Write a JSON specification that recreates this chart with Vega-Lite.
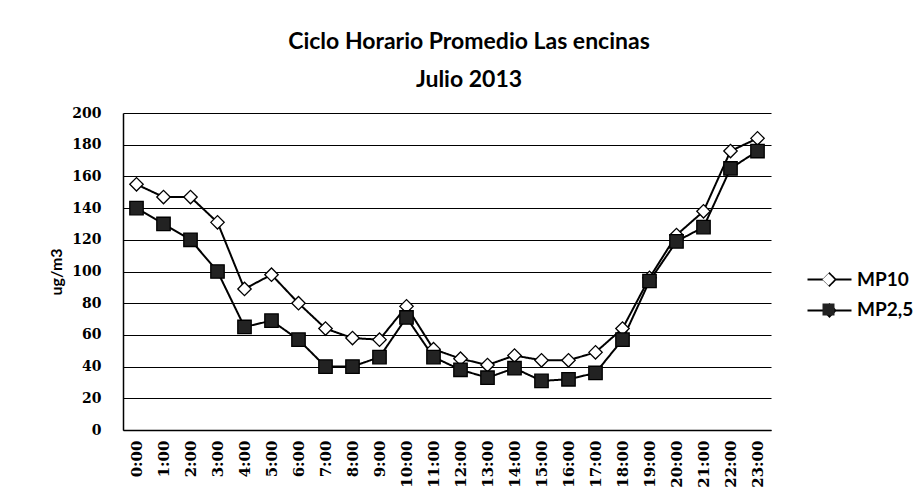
{
  "$schema": "https://vega.github.io/schema/vega-lite/v6.json",
  "width": 648,
  "height": 317,
  "autosize": {"type": "none"},
  "padding": {"left": 123, "top": 113, "right": 146, "bottom": 64},
  "background": "white",
  "title": {
    "text": ["Ciclo Horario Promedio Las encinas", "Julio 2013"],
    "font": "Lato",
    "fontSize": 23,
    "fontWeight": "bold",
    "color": "black",
    "anchor": "middle",
    "dx": 22,
    "offset": 14,
    "lineHeight": 38
  },
  "data": {
    "values": [
      {"hora": "0:00", "serie": "MP10", "valor": 155}, {"hora": "0:00", "serie": "MP2,5", "valor": 140},
      {"hora": "1:00", "serie": "MP10", "valor": 147}, {"hora": "1:00", "serie": "MP2,5", "valor": 130},
      {"hora": "2:00", "serie": "MP10", "valor": 147}, {"hora": "2:00", "serie": "MP2,5", "valor": 120},
      {"hora": "3:00", "serie": "MP10", "valor": 131}, {"hora": "3:00", "serie": "MP2,5", "valor": 100},
      {"hora": "4:00", "serie": "MP10", "valor": 89}, {"hora": "4:00", "serie": "MP2,5", "valor": 65},
      {"hora": "5:00", "serie": "MP10", "valor": 98}, {"hora": "5:00", "serie": "MP2,5", "valor": 69},
      {"hora": "6:00", "serie": "MP10", "valor": 80}, {"hora": "6:00", "serie": "MP2,5", "valor": 57},
      {"hora": "7:00", "serie": "MP10", "valor": 64}, {"hora": "7:00", "serie": "MP2,5", "valor": 40},
      {"hora": "8:00", "serie": "MP10", "valor": 58}, {"hora": "8:00", "serie": "MP2,5", "valor": 40},
      {"hora": "9:00", "serie": "MP10", "valor": 57}, {"hora": "9:00", "serie": "MP2,5", "valor": 46},
      {"hora": "10:00", "serie": "MP10", "valor": 78}, {"hora": "10:00", "serie": "MP2,5", "valor": 71},
      {"hora": "11:00", "serie": "MP10", "valor": 51}, {"hora": "11:00", "serie": "MP2,5", "valor": 46},
      {"hora": "12:00", "serie": "MP10", "valor": 45}, {"hora": "12:00", "serie": "MP2,5", "valor": 38},
      {"hora": "13:00", "serie": "MP10", "valor": 41}, {"hora": "13:00", "serie": "MP2,5", "valor": 33},
      {"hora": "14:00", "serie": "MP10", "valor": 47}, {"hora": "14:00", "serie": "MP2,5", "valor": 39},
      {"hora": "15:00", "serie": "MP10", "valor": 44}, {"hora": "15:00", "serie": "MP2,5", "valor": 31},
      {"hora": "16:00", "serie": "MP10", "valor": 44}, {"hora": "16:00", "serie": "MP2,5", "valor": 32},
      {"hora": "17:00", "serie": "MP10", "valor": 49}, {"hora": "17:00", "serie": "MP2,5", "valor": 36},
      {"hora": "18:00", "serie": "MP10", "valor": 64}, {"hora": "18:00", "serie": "MP2,5", "valor": 57},
      {"hora": "19:00", "serie": "MP10", "valor": 96}, {"hora": "19:00", "serie": "MP2,5", "valor": 94},
      {"hora": "20:00", "serie": "MP10", "valor": 123}, {"hora": "20:00", "serie": "MP2,5", "valor": 119},
      {"hora": "21:00", "serie": "MP10", "valor": 138}, {"hora": "21:00", "serie": "MP2,5", "valor": 128},
      {"hora": "22:00", "serie": "MP10", "valor": 176}, {"hora": "22:00", "serie": "MP2,5", "valor": 165},
      {"hora": "23:00", "serie": "MP10", "valor": 184}, {"hora": "23:00", "serie": "MP2,5", "valor": 176}
    ]
  },
  "encoding": {
    "x": {
      "field": "hora",
      "type": "ordinal",
      "sort": null,
      "axis": {
        "title": null,
        "labelAngle": 270,
        "labelFont": "DejaVu Serif",
        "labelFontWeight": "bold",
        "labelFontSize": 15,
        "labelColor": "black",
        "labelPadding": 10,
        "ticks": false,
        "domainColor": "black",
        "domainWidth": 1.5,
        "grid": false
      }
    },
    "y": {
      "field": "valor",
      "type": "quantitative",
      "scale": {"domain": [0, 200]},
      "axis": {
        "title": "ug/m3",
        "titleFont": "Lato",
        "titleFontWeight": "bold",
        "titleFontSize": 16,
        "titleColor": "black",
        "titlePadding": 7,
        "values": [0, 20, 40, 60, 80, 100, 120, 140, 160, 180, 200],
        "labelFont": "DejaVu Serif",
        "labelFontWeight": "bold",
        "labelFontSize": 14,
        "labelColor": "black",
        "labelPadding": 22,
        "ticks": false,
        "domainColor": "black",
        "domainWidth": 1.5,
        "grid": true,
        "gridColor": "black",
        "gridWidth": 1.2,
        "gridOpacity": 1
      }
    }
  },
  "layer": [
    {
      "mark": {"type": "line", "color": "black", "strokeWidth": 2},
      "encoding": {
        "strokeDash": {
          "field": "serie",
          "type": "nominal",
          "scale": {"domain": ["MP10", "MP2,5"], "range": [[1, 0], [1, 0]]},
          "legend": {
            "title": null,
            "orient": "none",
            "legendX": 697,
            "legendY": 157,
            "symbolType": "M-4.4,0H4.4M0,-1.2L1.2,0L0,1.2L-1.2,0Z",
            "symbolSize": 100,
            "symbolStrokeWidth": 2,
            "symbolStrokeColor": "black",
            "labelFont": "Lato",
            "labelFontWeight": "bold",
            "labelFontSize": 19,
            "labelOpacity": 0,
            "labelOffset": 19,
            "rowPadding": 10
          }
        }
      }
    },
    {
      "mark": {"type": "point", "filled": false, "stroke": "black", "strokeWidth": 1.3, "opacity": 1, "size": 180},
      "encoding": {
        "shape": {
          "field": "serie",
          "type": "nominal",
          "scale": {"range": ["diamond", "square"]},
          "legend": {
            "title": null,
            "orient": "none",
            "legendX": 696,
            "legendY": 157,
            "symbolSize": 144,
            "symbolStrokeWidth": 1.5,
            "symbolStrokeColor": "black",
            "labelFont": "Lato",
            "labelFontWeight": "bold",
            "labelFontSize": 19,
            "labelColor": "black",
            "labelOffset": 19,
            "rowPadding": 10
          }
        },
        "fill": {
          "field": "serie",
          "type": "nominal",
          "scale": {"range": ["white", "#222222"]},
          "legend": {
            "title": null,
            "orient": "none",
            "legendX": 696,
            "legendY": 157,
            "symbolSize": 144,
            "symbolStrokeWidth": 1.5,
            "symbolStrokeColor": "black",
            "labelFont": "Lato",
            "labelFontWeight": "bold",
            "labelFontSize": 19,
            "labelColor": "black",
            "labelOffset": 19,
            "rowPadding": 10
          }
        }
      }
    }
  ],
  "config": {"view": {"stroke": null}}
}
